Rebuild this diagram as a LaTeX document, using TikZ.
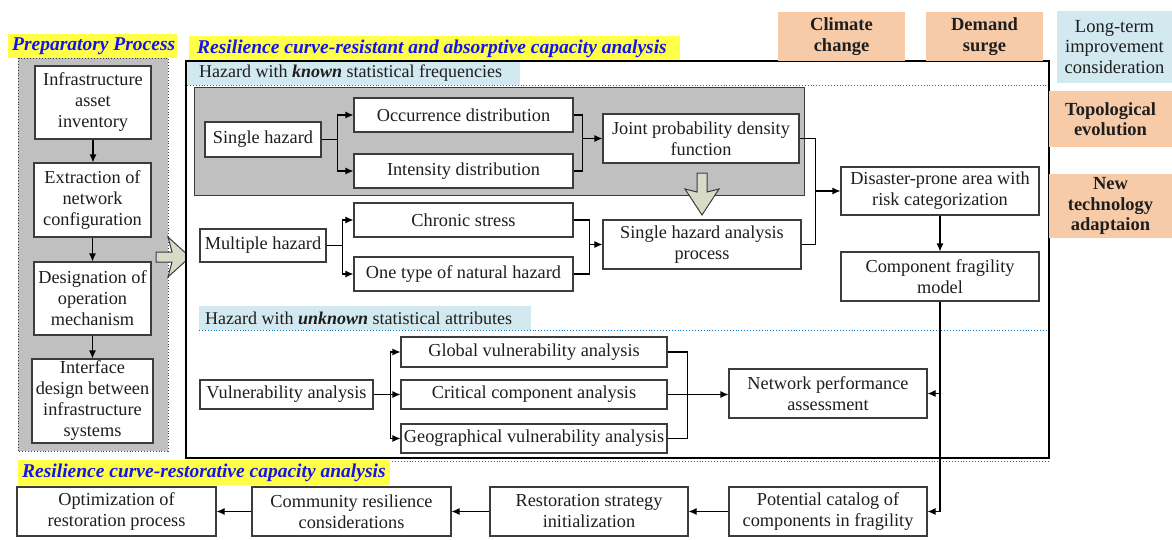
\documentclass[tikz,border=0pt]{standalone}
\usepackage{fontspec}
\setmainfont{Liberation Serif}
\usetikzlibrary{arrows.meta,calc}
\definecolor{panelgray}{RGB}{192,192,192}
\definecolor{ttlyellow}{RGB}{255,255,72}
\definecolor{ttlblue}{RGB}{20,20,235}
\definecolor{peach}{RGB}{248,203,168}
\definecolor{lblue}{RGB}{210,233,240}
\definecolor{fatfill}{RGB}{216,220,198}
\definecolor{bordc}{RGB}{60,60,60}
\definecolor{txt}{RGB}{30,30,30}
\definecolor{dotblue}{RGB}{0,112,192}
\newcommand\mybox[6]{\node[box,minimum width={(#3-#2)*1pt},minimum height={(#5-#4)*1pt}] (#1) at ({(#2+#3)/2},{(#4+#5)/2}) {#6};}
\newcommand\mytag[7]{\node[tag,fill=#6,minimum width={(#3-#2)*1pt},minimum height={(#5-#4)*1pt}] (#1) at ({(#2+#3)/2},{(#4+#5)/2}) {#7};}
\begin{document}
\begin{tikzpicture}[x=1pt,y=-1pt,
  box/.style={draw=bordc,line width=1.1pt,fill=white,align=center,inner sep=0pt,text=txt,font=\fontsize{18.3}{21}\selectfont},
  tag/.style={align=center,inner sep=0pt,text=txt,font=\fontsize{18.5}{20.5}\selectfont\bfseries},
  ttl/.style={anchor=west,inner sep=0pt,text=ttlblue,font=\fontsize{19.5}{21}\selectfont\bfseries\itshape},
  lbl/.style={anchor=west,inner sep=0pt,text=txt,font=\fontsize{18}{21}\selectfont},
  line/.style={draw=black,line width=1.1pt},
  arr/.style={line,-{Latex[length=8pt,width=7pt]}},
  fat/.style={draw=bordc,line width=1pt,fill=fatfill,line join=miter},
  dotline/.style={draw=dotblue,line width=0.9pt,dotted}]
\useasboundingbox (0,0) rectangle (1172,539);
\fill[white] (0,0) rectangle (1172,539);

% ---------- Preparatory process ----------
\fill[ttlyellow] (8,34) rectangle (177,58);
\node[ttl] (prepttl) at (12,46.5) {Preparatory Process};
\filldraw[fill=panelgray,draw=bordc,line width=0.9pt,dotted] (18,58) rectangle (168,451);
\mybox{inv}{35}{151}{66}{139}{Infrastructure\\asset\\inventory}
\mybox{ext}{34}{151}{163}{237}{Extraction of\\network\\configuration}
\mybox{des}{34}{151}{262}{335}{Designation of\\operation\\mechanism}
\mybox{intf}{32}{153}{359}{443}{Interface\\design between\\infrastructure\\systems}
\draw[arr] (inv.south) -- (inv.south |- ext.north);
\draw[arr] (ext.south) -- (ext.south |- des.north);
\draw[arr] (des.south) -- (des.south |- intf.north);

% fat right arrow
\draw[fat] (156,252) -- (172,252) -- (168,237) -- (190,257) -- (168,277) -- (172,262) -- (156,262) -- cycle;

% ---------- main panel ----------
\fill[ttlyellow] (189,36) rectangle (680,61);
\node[ttl] (mainttl) at (197,48.5) {Resilience curve-resistant and absorptive capacity analysis};
\fill[white] (186,61) rectangle (1049,458);
\fill[lblue] (187,62) rectangle (520,85);
\node[lbl] (knownlbl) at (199,73.5) {Hazard with \textbf{\textit{known}} statistical frequencies};
\draw[dotline] (187,85.5) -- (1049,85.5);

\filldraw[fill=panelgray,draw=bordc,line width=1pt] (194,87) rectangle (804,195);
\mybox{sh}{205}{321}{122}{157}{Single hazard}
\mybox{occ}{354}{573}{98}{132}{Occurrence distribution}
\mybox{int}{354}{573}{154}{188}{Intensity distribution}
\mybox{joint}{603}{799}{114}{163}{Joint probability density\\function}
\draw[arr] (sh.east) -- ++(16,0) |- (occ.west);
\draw[arr] (sh.east) -- ++(16,0) |- (int.west);
\draw[line] (occ.east) -- ++(9,0) |- (int.east);
\coordinate (m1) at (582,0);
\draw[arr] (m1 |- joint.west) -- (joint.west);

% fat down arrow
\draw[fat] (697,173) -- (707,173) -- (707,192) -- (719,189) -- (702,215) -- (685,189) -- (697,192) -- cycle;

\mybox{mh}{200}{326}{229}{262}{Multiple hazard}
\mybox{chr}{354}{573}{203}{237}{Chronic stress}
\mybox{one}{354}{573}{257}{291}{One type of natural hazard}
\mybox{sha}{603}{801}{220}{269}{Single hazard analysis\\process}
\draw[arr] (mh.east) -- ++(16,0) |- (chr.west);
\draw[arr] (mh.east) -- ++(16,0) |- (one.west);
\draw[line] (chr.east) -- ++(16,0) |- (one.east);
\coordinate (m2) at (589,0);
\draw[arr] (m2 |- sha.west) -- (sha.west);

\mybox{dis}{841}{1039}{167}{215}{Disaster-prone area with\\risk categorization}
\mybox{cfm}{841}{1039}{252}{301}{Component fragility\\model}
\draw[line] (joint.east) -- ++(16,0) |- (sha.east);
\coordinate (m3) at (815,0);
\draw[arr] (m3 |- dis.west) -- (dis.west);
\draw[arr] (dis.south) -- (cfm.north);

\fill[lblue] (199,306) rectangle (531,330);
\node[lbl] (unklbl) at (205,318) {Hazard with \textbf{\textit{unknown}} statistical attributes};
\draw[dotline] (199,330.5) -- (1049,330.5);

\mybox{vul}{200}{373}{380}{409}{Vulnerability analysis}
\mybox{glob}{401}{667}{337}{367}{Global vulnerability analysis}
\mybox{crit}{401}{667}{380}{409}{Critical component analysis}
\mybox{geo}{401}{667}{424}{453}{Geographical vulnerability analysis}
\mybox{net}{729}{927}{369}{418}{Network performance\\assessment}
\draw[arr] (vul.east) -- ++(17,0) |- (glob.west);
\draw[arr] (vul.east) -- (crit.west);
\draw[arr] (vul.east) -- ++(17,0) |- (geo.west);
\draw[line] (glob.east) -- ++(20,0) |- (geo.east);
\draw[arr] (crit.east) -- (crit.east -| net.west);

\draw[line,draw=black] (186,61) rectangle (1049,458);
\draw[dotline] (18,461) -- (1049,461);

% ---------- top right tags ----------
\mytag{clim}{778}{905}{12}{61}{peach}{Climate\\change}
\mytag{dem}{926}{1043}{12}{61}{peach}{Demand\\surge}
\node[tag,fill=lblue,font=\fontsize{18.5}{20.5}\selectfont,minimum width=115pt,minimum height=72pt] (long) at (1114.5,47) {Long-term\\improvement\\consideration};
\mytag{topo}{1049}{1172}{91}{147}{peach}{Topological\\evolution}
\mytag{newt}{1049}{1172}{174}{238}{peach}{New\\technology\\adaptaion}

% ---------- restorative ----------
\fill[ttlyellow] (18,460) rectangle (390,485);
\node[ttl] (restttl) at (22,472.5) {Resilience curve-restorative capacity analysis};
\mybox{opt}{17}{216}{487}{536}{Optimization of\\restoration process}
\mybox{com}{252}{451}{487}{536}{Community resilience\\considerations}
\mybox{res}{490}{688}{487}{536}{Restoration strategy\\initialization}
\mybox{pot}{729}{927}{487}{536}{Potential catalog of\\components in fragility}
\draw[arr] (cfm.south) |- (pot.east);
\draw[arr] (cfm.south |- net.east) -- (net.east);
\draw[arr] (pot.west) -- (res.east);
\draw[arr] (res.west) -- (com.east);
\draw[arr] (com.west) -- (opt.east);
\end{tikzpicture}
\end{document}
